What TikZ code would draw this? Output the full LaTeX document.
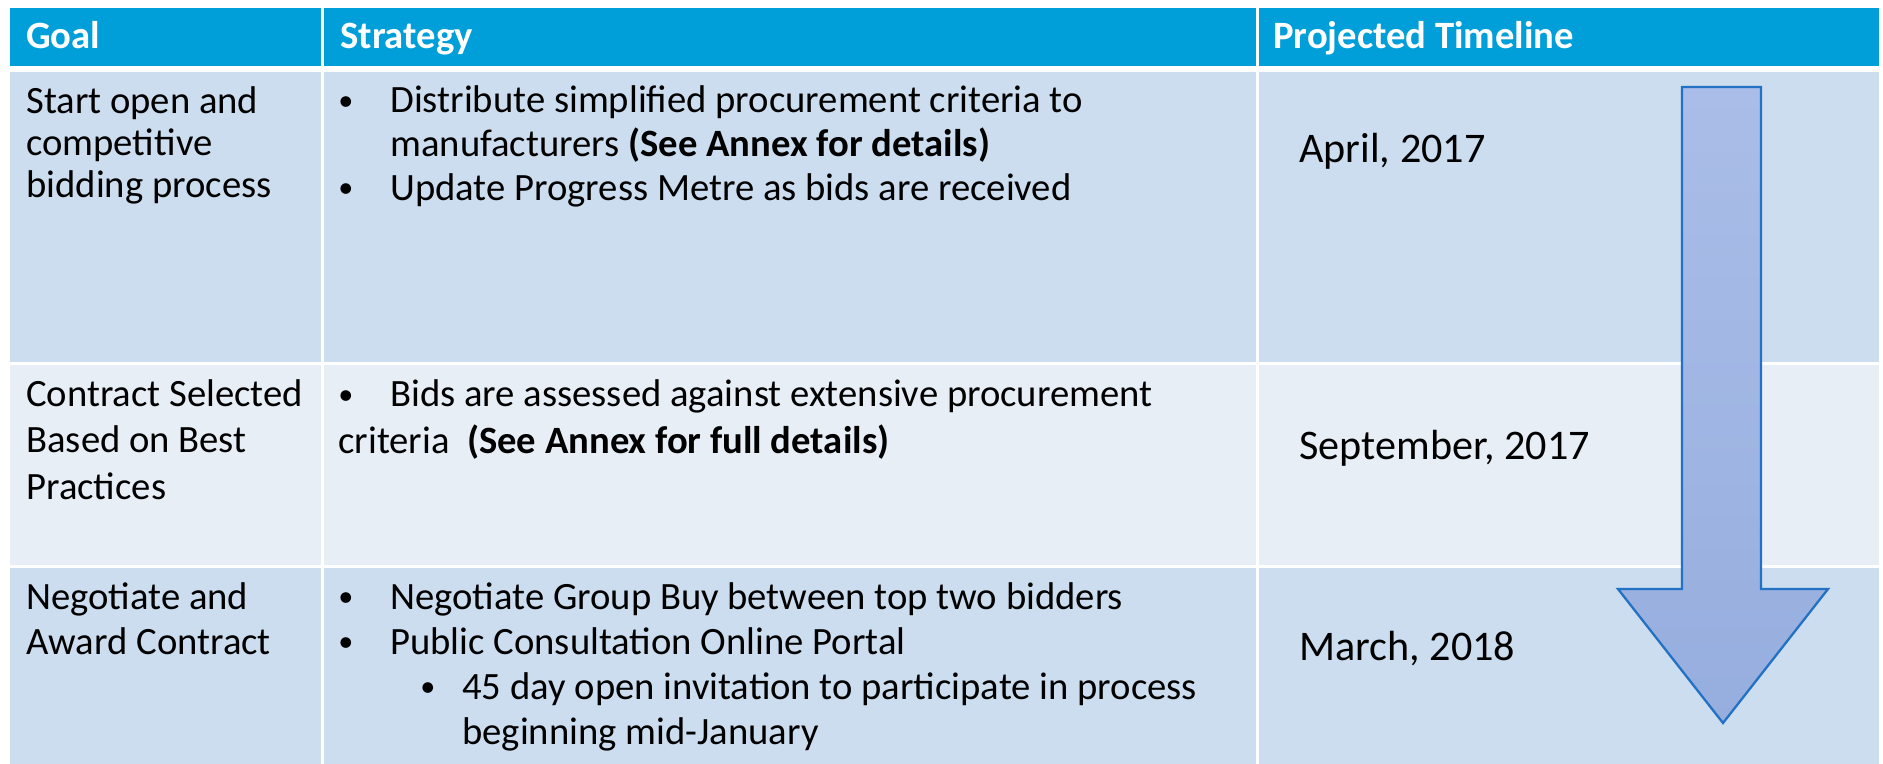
\documentclass[tikz,border=0pt]{standalone}
\usepackage{fontspec}
\setmainfont{Carlito}
\usetikzlibrary{positioning}

\definecolor{headblue}{HTML}{009FDA}
\definecolor{rowdark}{HTML}{CBDDEE}
\definecolor{rowlight}{HTML}{E7EEF6}
\definecolor{arrowline}{HTML}{2271C4}
\definecolor{arrowtop}{HTML}{AABDE8}
\definecolor{arrowbot}{HTML}{96AEDE}

\newcommand{\tbul}{\raisebox{1.2pt}{\scalebox{0.78}{\textbullet}}}
\newcommand{\bul}[1]{\makebox[29.6pt][l]{\tbul}#1}
\newcommand{\hang}{\hspace*{29.6pt}}

\begin{document}
\begin{tikzpicture}[x=0.02cm, y=-0.02cm,
    every node/.style={inner sep=0pt, anchor=base west, align=left},
    headtext/.style={text=white, font=\fontsize{22pt}{24pt}\bfseries\selectfont},
    celltext/.style={font=\fontsize{22pt}{#1}\selectfont},
    datetext/.style={font=\fontsize{24pt}{28pt}\selectfont}]
        \useasboundingbox (0,0) rectangle (1883,764);
        \fill[white] (0,0) rectangle (1883,764);

        % header row
        \fill[headblue] (10,8) rectangle (321,66);
        \fill[headblue] (324,8) rectangle (1256,66);
        \fill[headblue] (1259,8) rectangle (1879,66);
        \node[headtext] (goalhead) at (26,49) {Goal};
        \node[headtext] (stratHead) at (340,49) {Strategy};
        \node[headtext] (timeHead) at (1273,49) {Projected Timeline};

        % body rows
        \foreach \top/\bot/\shade in {72/362/rowdark, 365/565/rowlight, 568/764/rowdark}{
            \fill[\shade] (10,\top) rectangle (321,\bot);
            \fill[\shade] (324,\top) rectangle (1256,\bot);
            \fill[\shade] (1259,\top) rectangle (1879,\bot);
        }

        % nodes sit on the baseline of their last line
        \begin{scope}
            \node[celltext=23.9pt] (goal1) at (26,197) {Start open and\\competitive\\bidding process};
            \node[celltext=24.8pt] (strat1) at (338,200) {\bul{Distribute simplified procurement criteria to}\\
                \hang manufacturers \textbf{(See Annex for details)}\\
                \bul{Update Progress Metre as bids are received}};
            \node[datetext] (date1) at (1299,162) {April, 2017};
        \end{scope}

        \begin{scope}
            \node[celltext=26.2pt] (goal2) at (26,499) {Contract Selected\\Based on Best\\Practices};
            \node[celltext=26.2pt] (strat2) at (338,453) {\bul{Bids are assessed against extensive procurement}\\
                criteria\ \ \textbf{(See Annex for full details)}};
            \node[datetext] (date2) at (1299,459) {September, 2017};
        \end{scope}

        \begin{scope}
            \node[celltext=25.6pt] (goal3) at (26,654) {Negotiate and\\Award Contract};
            \node[celltext=25.6pt] (strat3) at (338,744) {\bul{Negotiate Group Buy between top two bidders}\\
                \bul{Public Consultation Online Portal}\\
                \hspace*{46.7pt}\makebox[23.9pt][l]{\tbul}45 day open invitation to participate in process\\
                \hspace*{70.6pt}beginning mid-January};
            \node[datetext] (date3) at (1299,660) {March, 2018};
        \end{scope}

        % timeline arrow
        \path[draw=arrowline, line width=1.3pt, top color=arrowtop, bottom color=arrowbot]
            (1682,87) -- (1761,87) -- (1761,589) -- (1828,589) -- (1723,723)
            -- (1618,589) -- (1682,589) -- cycle;
\end{tikzpicture}
\end{document}
